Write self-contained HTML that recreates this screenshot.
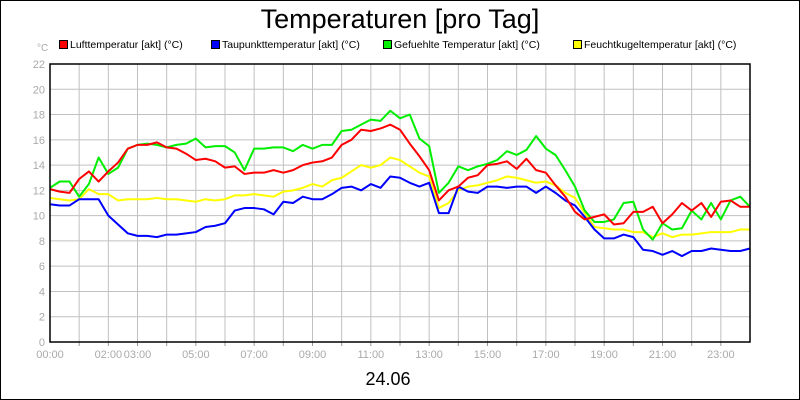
<!DOCTYPE html>
<html><head><meta charset="utf-8"><style>
body{margin:0;background:#fff}
#wrap{position:relative;width:798px;height:398px;border:1px solid #000;font-family:"Liberation Sans",sans-serif;overflow:hidden}
</style></head><body>
<div id="wrap">
<svg id="chart" width="798" height="398" viewBox="1 1 798 398" xmlns="http://www.w3.org/2000/svg" font-family="Liberation Sans, sans-serif">
<text x="400" y="28" text-anchor="middle" font-size="27" fill="#000">Temperaturen [pro Tag]</text>
<text x="388" y="385" text-anchor="middle" font-size="18" fill="#000">24.06</text>
<text x="37" y="51" font-size="10" fill="#aaa">°C</text>
<g id="legend"></g>
<g id="grid"></g><g id="series"></g><g id="axes"></g>
</svg></div>
<script>
const times=[];for(let i=0;i<=72;i++)times.push(i/3);
const luft=[12.1,11.9,11.8,12.9,13.5,12.7,13.5,14.2,15.3,15.6,15.6,15.8,15.4,15.3,14.9,14.4,14.5,14.3,13.8,13.9,13.3,13.4,13.4,13.6,13.4,13.6,14.0,14.2,14.3,14.6,15.6,16.0,16.8,16.7,16.9,17.2,16.8,15.7,14.7,13.6,11.2,12.0,12.3,13.0,13.2,14.0,14.1,14.3,13.7,14.5,13.6,13.4,12.4,11.5,10.3,9.7,9.9,10.1,9.3,9.4,10.3,10.3,10.7,9.4,10.1,11.0,10.4,11.0,9.9,11.1,11.2,10.7,10.7];
const taupunkt=[10.9,10.8,10.8,11.3,11.3,11.3,10.0,9.3,8.6,8.4,8.4,8.3,8.5,8.5,8.6,8.7,9.1,9.2,9.4,10.4,10.6,10.6,10.5,10.1,11.1,11.0,11.5,11.3,11.3,11.7,12.2,12.3,12.0,12.5,12.2,13.1,13.0,12.6,12.3,12.6,10.2,10.2,12.3,11.9,11.8,12.3,12.3,12.2,12.3,12.3,11.8,12.3,11.8,11.2,10.8,9.9,8.9,8.2,8.2,8.5,8.3,7.3,7.2,6.9,7.2,6.8,7.2,7.2,7.4,7.3,7.2,7.2,7.4];
const gefuehlt=[12.2,12.7,12.7,11.5,12.5,14.6,13.3,13.8,15.3,15.6,15.7,15.6,15.4,15.6,15.7,16.1,15.4,15.5,15.5,15.0,13.6,15.3,15.3,15.4,15.4,15.1,15.6,15.3,15.6,15.6,16.7,16.8,17.2,17.6,17.5,18.3,17.7,18.0,16.1,15.5,11.8,12.6,13.9,13.6,13.9,14.1,14.4,15.1,14.8,15.2,16.3,15.3,14.8,13.6,12.3,10.4,9.5,9.5,9.7,11.0,11.1,8.9,8.1,9.4,8.9,9.0,10.4,9.7,11.0,9.7,11.2,11.5,10.7];
const feucht=[11.4,11.3,11.2,11.3,12.1,11.7,11.7,11.2,11.3,11.3,11.3,11.4,11.3,11.3,11.2,11.1,11.3,11.2,11.3,11.6,11.6,11.7,11.6,11.5,11.9,12.0,12.2,12.5,12.3,12.8,13.0,13.5,14.0,13.8,14.0,14.6,14.4,13.9,13.4,13.1,10.6,11.0,12.0,12.3,12.4,12.6,12.8,13.1,13.0,12.8,12.6,12.7,12.4,11.8,11.4,10.2,9.1,9.0,8.9,8.9,8.7,8.7,8.3,8.6,8.3,8.5,8.5,8.6,8.7,8.7,8.7,8.9,8.9];
const yTicks=[0,2,4,6,8,10,12,14,16,18,20,22];
const xTickLabels=["00:00","02:00","03:00","05:00","07:00","09:00","11:00","13:00","15:00","17:00","19:00","21:00","23:00"];
const xTickHours=[0,2,3,5,7,9,11,13,15,17,19,21,23];
const seriesNames=["Lufttemperatur [akt] (°C)","Taupunkttemperatur [akt] (°C)","Gefuehlte Temperatur [akt] (°C)","Feuchtkugeltemperatur [akt] (°C)"];
const L=50,R=750,T=64,B=342;
const xs=h=>L+(R-L)*h/24, ys=v=>B-(B-T)*v/22;
const NS="http://www.w3.org/2000/svg";
function mk(t,a,p){const e=document.createElementNS(NS,t);for(const k in a)e.setAttribute(k,a[k]);p.appendChild(e);return e;}
const grid=document.getElementById('grid'),axes=document.getElementById('axes'),ser=document.getElementById('series'),leg=document.getElementById('legend');
for(let h=1;h<24;h++){const l=mk('line',{x1:xs(h),x2:xs(h),y1:T,y2:B,stroke:'#c0c0c0','stroke-width':1},grid);


const t=mk('line',{x1:xs(h),x2:xs(h),y1:B,y2:B+4,stroke:'#999'},axes);

}
yTicks.forEach(v=>{if(v>0&&v<22){const l=mk('line',{x1:L,x2:R,y1:ys(v),y2:ys(v),stroke:'#c0c0c0','stroke-width':1},grid);

}
const t=mk('text',{x:L-5,y:ys(v)+4,'text-anchor':'end','font-size':11,fill:'#aaa'},axes);t.textContent=v;

});
xTickLabels.forEach((s,i)=>{const t=mk('text',{x:xs(xTickHours[i]),y:358,'text-anchor':'middle','font-size':11,fill:'#aaa'},axes);t.textContent=s;

});
const r=mk('rect',{x:L,y:T,width:R-L,height:B-T,fill:'none',stroke:'#000','stroke-width':1.5},axes);


const colors=['#ff0000','#0000ff','#00ee00','#ffff00'];
const order=[[feucht,3],[taupunkt,1],[luft,0],[gefuehlt,2]];
const drawOrder=[[feucht,3,'feuchtkugel-line'],[taupunkt,1,'taupunkt-line'],[gefuehlt,2,'gefuehlt-line'],[luft,0,'luft-line']];
drawOrder.forEach(([d,c,n])=>{const p=mk('polyline',{points:d.map((v,i)=>xs(times[i])+','+ys(v)).join(' '),fill:'none',stroke:colors[c],'stroke-width':2,'stroke-linejoin':'round'},ser);

});
const lx=[59,211,383,573];
seriesNames.forEach((s,i)=>{const g=mk('g',{},leg);


mk('rect',{x:lx[i]+0.5,y:40.5,width:8,height:8,fill:colors[i],stroke:'#000'},g);
const t=mk('text',{x:lx[i]+11,y:48,'font-size':10.5,fill:'#000'},g);t.textContent=s;});
</script>
</body></html>
